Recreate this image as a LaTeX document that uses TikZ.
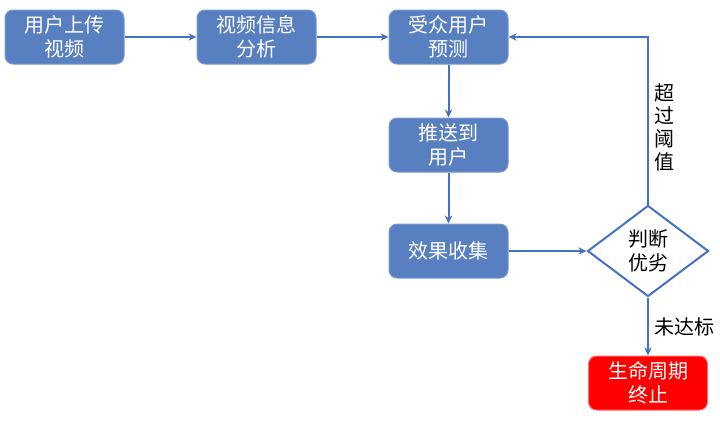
\documentclass[tikz,border=0pt]{standalone}
\usepackage{fontspec}
\newfontfamily\cjk{Noto Sans CJK SC}
\usepackage{tikz}
\usetikzlibrary{arrows.meta,shapes.geometric,positioning}
\definecolor{boxblue}{RGB}{88,127,192}
\definecolor{boxedge}{RGB}{120,155,212}
\definecolor{lineblue}{RGB}{68,114,196}
\definecolor{stopred}{RGB}{255,0,0}
\definecolor{stopedge}{RGB}{255,110,110}
\begin{document}
\begin{tikzpicture}[>={Stealth[length=6pt,width=5.5pt]},
	node distance=54pt,
	font=\cjk\fontsize{15pt}{18pt}\selectfont]
	
	\tikzstyle{stepbox}=[rectangle, rounded corners=6pt,
	minimum width=89.25pt, minimum height=40.5pt, text width=85pt,
	align=center, inner sep=0pt, fill=boxblue, draw=boxedge,
	line width=0.75pt, text=white]
	\tikzstyle{judgebox}=[diamond, minimum width=90.75pt,
	minimum height=68.25pt, inner sep=0pt, align=center,
	fill=white, draw=lineblue, line width=1.5pt, text=black]
	\tikzstyle{stopbox}=[stepbox, fill=stopred, draw=stopedge]
	\tikzstyle{flow}=[->, draw=lineblue, line width=1.5pt]
	
	\useasboundingbox (0,0) rectangle (540pt,-316.5pt);
	
	%top row
	\node[stepbox]
	(upload) at (48.375pt,-27.75pt)
	{用户上传\\视频};
	
	\node[stepbox]
	(analyse) [right=of upload]
	{视频信息\\分析};
	
	\node[stepbox]
	(predict) [right=of analyse]
	{受众用户\\预测};
	
	%column
	\node[stepbox]
	(push) [below=39.75pt of predict]
	{推送到\\用户};
	
	\node[stepbox]
	(collect) [below=38.25pt of push]
	{效果收集};
	
	\node[judgebox]
	(judge) [right=58.5pt of collect]
	{判断\\优劣};
	
	\node[stopbox]
	(stop) [below=43.5pt of judge]
	{生命周期\\终止};
	
	\path[flow] (upload) edge (analyse);
	\path[flow] (analyse) edge (predict);
	\path[flow] (predict) edge (push);
	\path[flow] (push) edge (collect);
	\path[flow] (collect) edge (judge);
	
	\draw[flow] (judge.north) 
		|- node[pos=0.23, right=1pt, align=center, text=black,
		font=\cjk\fontsize{15pt}{17.25pt}\selectfont] {超\\过\\阈\\值}
		(predict.east);
	
	\draw[flow] (judge.south) 
		-- node[right=0.5pt, text=black] {未达标}
		(stop.north);
	
\end{tikzpicture}
\end{document}
